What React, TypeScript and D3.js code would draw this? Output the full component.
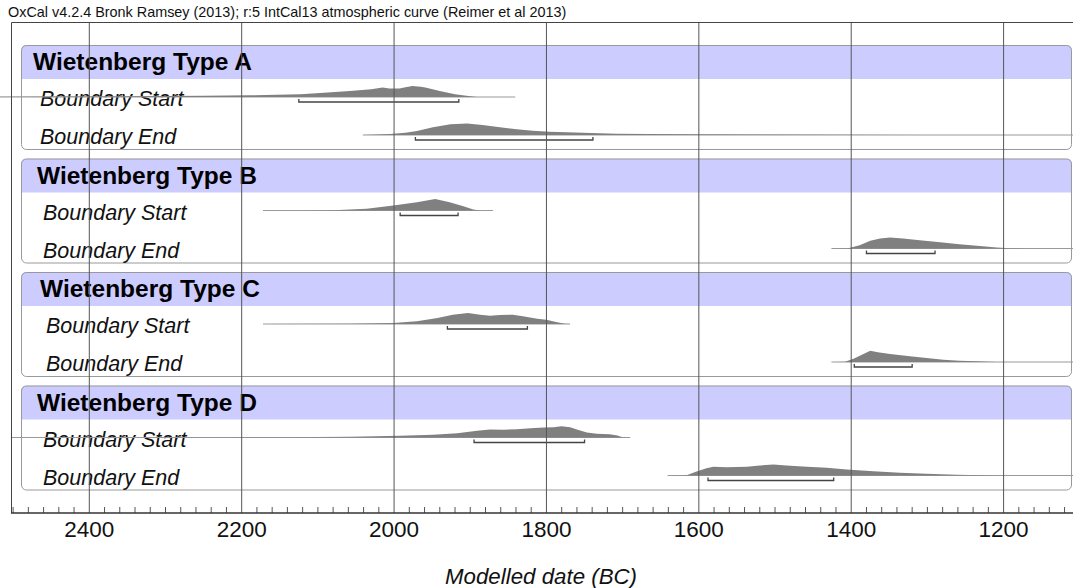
import * as d3 from "d3";

const header = "OxCal v4.2.4 Bronk Ramsey (2013); r:5 IntCal13 atmospheric curve (Reimer et al 2013)";
const groups = ["Wietenberg Type A", "Wietenberg Type B", "Wietenberg Type C", "Wietenberg Type D"];
const rowNames = ["Boundary Start", "Boundary End"];
const majorTicks = [2400, 2200, 2000, 1800, 1600, 1400, 1200];

// [year BC, relative probability 0-100]
const aStart: [number, number][] = [
  [2520, 2], [2450, 4], [2350, 7], [2250, 11], [2189, 15], [2123, 23], [2097, 35], [2058, 52],
  [2030, 68], [2015, 82], [2006, 73], [1993, 74], [1985, 85], [1976, 96], [1965, 90], [1959, 82],
  [1940, 52], [1920, 23], [1900, 6], [1891, 0],
];
const aEnd: [number, number][] = [
  [2041, 0], [2005, 9], [1985, 20], [1970, 35], [1949, 67], [1926, 93], [1904, 100], [1884, 87],
  [1861, 67], [1839, 50], [1818, 37], [1796, 29], [1752, 20], [1708, 11], [1664, 9], [1600, 6],
  [1500, 4], [1400, 2], [1300, 1], [1200, 0.5], [1100, 0],
];
const bStart: [number, number][] = [
  [2172, 0], [2120, 1], [2080, 3], [2036, 15], [2001, 43], [1970, 72], [1946, 100], [1927, 72],
  [1909, 37], [1896, 9], [1887, 0],
];
const bEnd: [number, number][] = [
  [1426, 0], [1404, 3], [1389, 29], [1375, 67], [1362, 87], [1349, 96], [1332, 87], [1310, 72],
  [1280, 52], [1258, 37], [1235, 23], [1209, 9], [1192, 3], [1170, 0],
];
const cStart: [number, number][] = [
  [2172, 0], [2058, 3], [2001, 9], [1970, 23], [1943, 52], [1923, 81], [1903, 96], [1887, 81],
  [1874, 72], [1861, 78], [1844, 81], [1831, 67], [1812, 46], [1800, 37], [1786, 15], [1776, 3],
  [1769, 0],
];
const cEnd: [number, number][] = [
  [1420, 0], [1408, 3], [1397, 29], [1386, 63], [1375, 98], [1365, 84], [1349, 70], [1323, 50],
  [1301, 35], [1279, 20], [1258, 11], [1235, 6], [1209, 0],
];
const dStart: [number, number][] = [
  [2400, 0], [2146, 3], [2058, 6], [1992, 15], [1949, 23], [1917, 37], [1891, 58], [1874, 70],
  [1857, 67], [1839, 72], [1821, 81], [1804, 87], [1791, 90], [1780, 98], [1769, 90], [1759, 67],
  [1747, 43], [1734, 32], [1717, 29], [1707, 17], [1700, 3], [1690, 0],
];
const dEnd: [number, number][] = [
  [1641, 0], [1616, 3], [1603, 35], [1590, 63], [1581, 76], [1563, 72], [1537, 76], [1520, 87],
  [1502, 96], [1485, 87], [1458, 76], [1432, 67], [1406, 52], [1371, 37], [1336, 23], [1301, 15],
  [1262, 6], [1227, 3], [1196, 0],
];
const densities = [[aStart, aEnd], [bStart, bEnd], [cStart, cEnd], [dStart, dEnd]];
// baseline extent of each distribution
const baselines = [
  [[2520, 1841], [2041, 1100]],
  [[2172, 1870], [1426, 1100]],
  [[2172, 1769], [1426, 1100]],
  [[2503, 1690], [1641, 1100]],
];
// 95.4% ranges
const ranges = [
  [[2125, 1915], [1972, 1739]],
  [[1992, 1916], [1380, 1290]],
  [[1930, 1825], [1396, 1320]],
  [[1895, 1750], [1588, 1423]],
];

const W = 1073;
const H = 588;
const font = "'Liberation Sans', Arial, sans-serif";

export default function App() {
  const x = d3.scaleLinear().domain([2400, 1200]).range([89.3, 1003.6]);
  const h = d3.scaleLinear().domain([0, 100]).range([0, 11.5]);
  const left = 11, top = 22, axisY = 513;
  const minor = d3.range(2500, 1099, -20).filter((t) => t % 200 !== 0);
  const titleIndent = [0, 4, 7, 4];
  const labelIndent = [0, 3, 6, 3];

  return (
    <svg width={W} height={H} style={{ position: "absolute", left: 0, top: 0, background: "#fff" }} fontFamily={font}>
      <text x={8} y={17} fontSize={14.4} fill="#111">{header}</text>
      {groups.map((g, i) => {
        const gy = 45 + i * 113.5;
        return (
          <g key={g}>
            <clipPath id={"clip" + i}>
              <rect x={21} y={gy} width={1051} height={105} rx={5} />
            </clipPath>
            <rect x={21} y={gy} width={1051} height={105} rx={5} fill="#fff" />
            <rect x={21} y={gy} width={1051} height={34} fill="#ccccff" clipPath={`url(#clip${i})`} />
            <rect x={21.5} y={gy + 0.5} width={1050} height={104} rx={5} fill="none" stroke="#999" />
            <text x={33 + titleIndent[i]} y={gy + 25} fontSize={24.5} fontWeight="bold" fill="#000">{g}</text>
            {rowNames.map((r, j) => {
              const base = gy + 52 + j * 38;
              const area = d3.area<[number, number]>()
                .x((d) => x(d[0]))
                .y0(base)
                .y1((d) => base - h(d[1]));
              const [b0, b1] = baselines[i][j];
              const [r0, r1] = ranges[i][j];
              return (
                <g key={r}>
                  <text x={40 + labelIndent[i]} y={base + 9} fontSize={21.5} fontStyle="italic" fill="#111">{r}</text>
                  <line x1={x(b0)} x2={x(b1)} y1={base} y2={base} stroke="#999" strokeWidth={1} />
                  <path d={area(densities[i][j]) || ""} fill="#808080" />
                  <path
                    d={`M${x(r0)},${base + 2}V${base + 5}H${x(r1)}V${base + 2}`}
                    fill="none" stroke="#444" strokeWidth={1.3}
                  />
                </g>
              );
            })}
          </g>
        );
      })}
      {majorTicks.map((t) => (
        <line key={t} x1={x(t)} x2={x(t)} y1={top} y2={axisY} stroke="#555" strokeWidth={1} />
      ))}
      {minor.map((t) => (
        <line key={t} x1={x(t)} x2={x(t)} y1={axisY - 6} y2={axisY} stroke="#555" strokeWidth={1} />
      ))}
      <path d={`M${left + 0.5},${axisY}V${top + 0.5}H${W}`} fill="none" stroke="#444" strokeWidth={1} />
      <line x1={left} x2={W} y1={axisY} y2={axisY} stroke="#333" strokeWidth={1.5} />
      {majorTicks.map((t) => (
        <text key={t} x={x(t)} y={537} fontSize={22.5} textAnchor="middle" fill="#111">{t}</text>
      ))}
      <text x={541} y={584} fontSize={22.3} fontStyle="italic" textAnchor="middle" fill="#111">Modelled date (BC)</text>
    </svg>
  );
}
